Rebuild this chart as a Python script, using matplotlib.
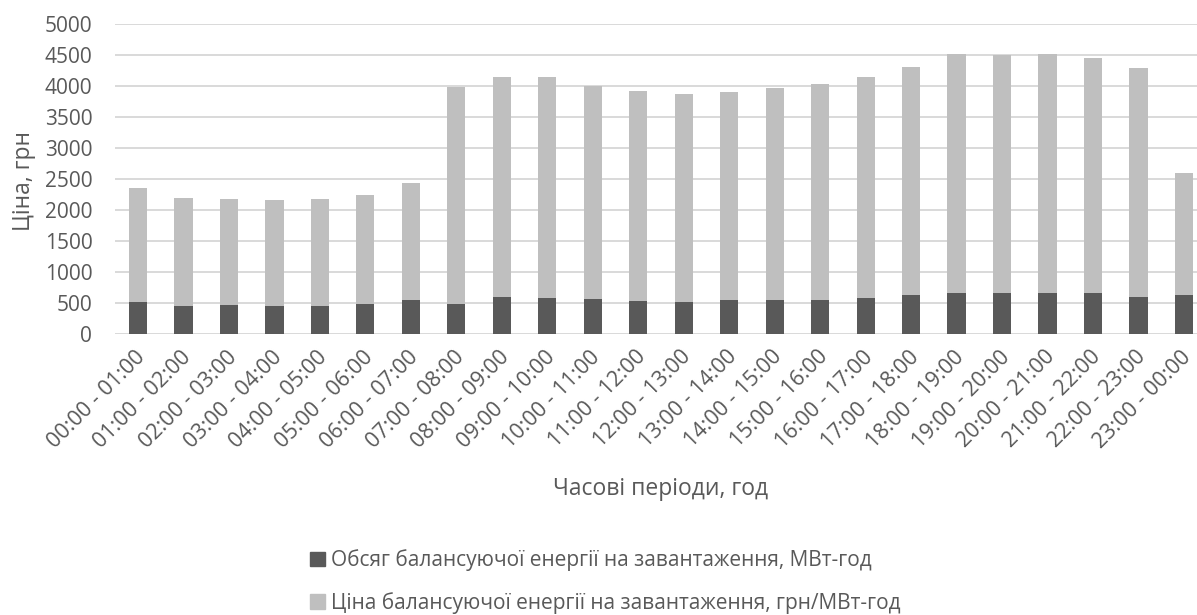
import numpy as np
import matplotlib
matplotlib.use("Agg")
import matplotlib.pyplot as plt
from matplotlib.patches import Patch
from matplotlib.transforms import ScaledTranslation

plt.rcParams["font.family"] = ["Open Sans", "DejaVu Sans"]

periods = ["00:00 - 01:00", "01:00 - 02:00", "02:00 - 03:00", "03:00 - 04:00",
           "04:00 - 05:00", "05:00 - 06:00", "06:00 - 07:00", "07:00 - 08:00",
           "08:00 - 09:00", "09:00 - 10:00", "10:00 - 11:00", "11:00 - 12:00",
           "12:00 - 13:00", "13:00 - 14:00", "14:00 - 15:00", "15:00 - 16:00",
           "16:00 - 17:00", "17:00 - 18:00", "18:00 - 19:00", "19:00 - 20:00",
           "20:00 - 21:00", "21:00 - 22:00", "22:00 - 23:00", "23:00 - 00:00"]

# обсяг, МВт-год
volume = [511, 457, 468, 457, 457, 489, 548, 479, 592, 586, 560, 532,
          516, 548, 548, 548, 581, 624, 667, 661, 661, 661, 597, 629]
# ціна, грн/МВт-год
price = [1839, 1742, 1710, 1699, 1721, 1753, 1883, 3500, 3558, 3554, 3435, 3388,
         3355, 3356, 3420, 3490, 3559, 3683, 3849, 3845, 3850, 3796, 3689, 1968]

text_col = "#595959"
x = np.arange(len(periods))

fig = plt.figure(figsize=(11.97, 6.15), dpi=100)
# plot area runs slightly past the right edge of the canvas
ax = fig.add_axes([0.0963, 0.457, 0.9118, 0.504])

ax.bar(x, volume, width=0.4, color="#595959", zorder=3)
ax.bar(x, price, width=0.4, bottom=volume, color="#bfbfbf", zorder=3)

ax.set_xlim(-0.5, len(periods) - 0.5)
ax.set_ylim(0, 5000)
ax.set_yticks(range(0, 5001, 500))
ax.yaxis.grid(True, color="#d9d9d9", linewidth=1.4, zorder=0)
for s in ax.spines.values():
    s.set_visible(False)
ax.tick_params(axis="both", length=0, colors=text_col)
ax.tick_params(axis="y", pad=16.5, labelsize=15)
ax.tick_params(axis="x", pad=9, labelsize=15.5)
ax.set_xticks(x)
ax.set_xticklabels(periods, rotation=45, ha="right", va="top", rotation_mode="anchor")
shift = ScaledTranslation(-3 / 100, 0, fig.dpi_scale_trans)
for lbl in ax.get_xticklabels():
    lbl.set_transform(lbl.get_transform() + shift)

fig.text(24 / 1197, 1 - 181 / 615, "Ціна, грн", color=text_col, fontsize=16.5,
         rotation=90, ha="center", va="center")
fig.text(661 / 1197, 1 - 489 / 615, "Часові періоди, год", color=text_col,
         fontsize=16.5, ha="center", va="center")

handles = [Patch(color="#595959"), Patch(color="#bfbfbf")]
labels = ["Обсяг балансуючої енергії на завантаження, МВт-год",
          "Ціна балансуючої енергії на завантаження, грн/МВт-год"]
fig.legend(handles, labels, loc="center left", bbox_to_anchor=(0.259, 0.054),
           frameon=False, fontsize=15, handlelength=0.7, handleheight=0.7,
           handletextpad=0.3, labelspacing=1.0, labelcolor=text_col,
           borderaxespad=0, borderpad=0)

fig.savefig("out.png", dpi=100)
